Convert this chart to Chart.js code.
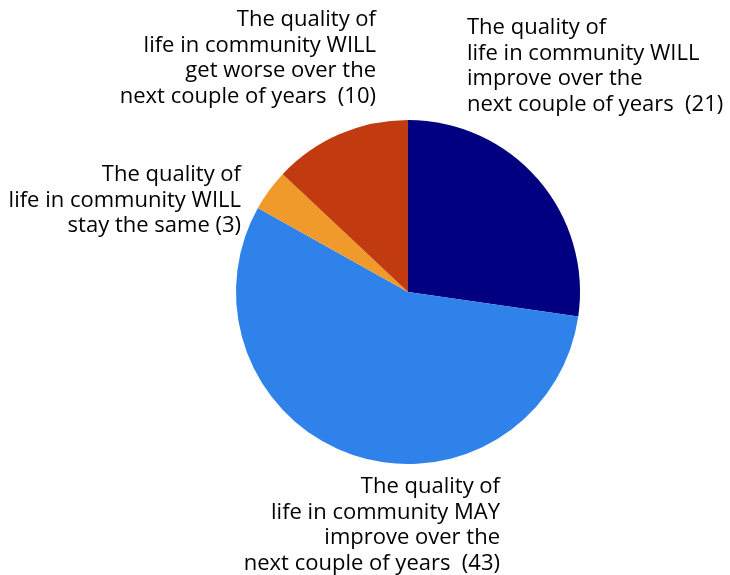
<!DOCTYPE html>
<html>
<head>
<meta charset="utf-8">
<script src="https://cdn.jsdelivr.net/npm/chart.js@4/dist/chart.umd.min.js"></script>
<style>
  html, body { margin: 0; padding: 0; background: #fff; }
  #wrap { width: 730px; height: 575px; }
</style>
</head>
<body>
<div id="wrap"><canvas id="pie"></canvas></div>
<script>
// survey answers, clockwise from 12 o'clock
const answers = [
    ["The quality of", "life in community WILL", "improve over the", "next couple of years  (21)"],
    ["The quality of", "life in community MAY", "improve over the", "next couple of years  (43)"],
    ["The quality of", "life in community WILL", "stay the same (3)"],
    ["The quality of", "life in community WILL", "get worse over the", "next couple of years  (10)"],
];
const counts = [21, 43, 3, 10];
const sliceColors = ["#000080", "#2e82ea", "#f19a2c", "#c13a10"];

// where each text block sits, relative to the pie centre
const labelLayout = [
    { dx: 59, dy: -264, align: "left" },
    { dx: 92, dy: 195, align: "right" },
    { dx: -167, dy: -117, align: "right" },
    { dx: -32, dy: -272, align: "right" },
];
const lineHeight = 25.5;

const sliceLabels = {
    id: "sliceLabels",
    afterDraw(chart) {
        const ctx = chart.ctx;
        const arc = chart.getDatasetMeta(0).data[0];
        ctx.save();
        ctx.font = "22px 'Open Sans', sans-serif";
        ctx.fillStyle = "#000";
        ctx.textBaseline = "middle";
        answers.forEach((lines, i) => {
            const pos = labelLayout[i];
            ctx.textAlign = pos.align;
            lines.forEach((line, j) => {
                ctx.fillText(line, arc.x + pos.dx, arc.y + pos.dy + j * lineHeight);
            });
        });
        ctx.restore();
    },
};

new Chart(document.querySelector("#pie"), {
    type: "pie",
    data: {
        labels: answers.map((a) => a.join(" ")),
        datasets: [
            {
                data: counts,
                backgroundColor: sliceColors,
                borderWidth: 0,
            },
        ],
    },
    options: {
        responsive: true,
        maintainAspectRatio: false,
        animation: false,
        layout: {
            padding: { top: 120, bottom: 111, left: 236, right: 150 },
        },
        plugins: {
            legend: { display: false },
            tooltip: { enabled: false },
        },
    },
    plugins: [sliceLabels],
});
</script>
</body>
</html>
